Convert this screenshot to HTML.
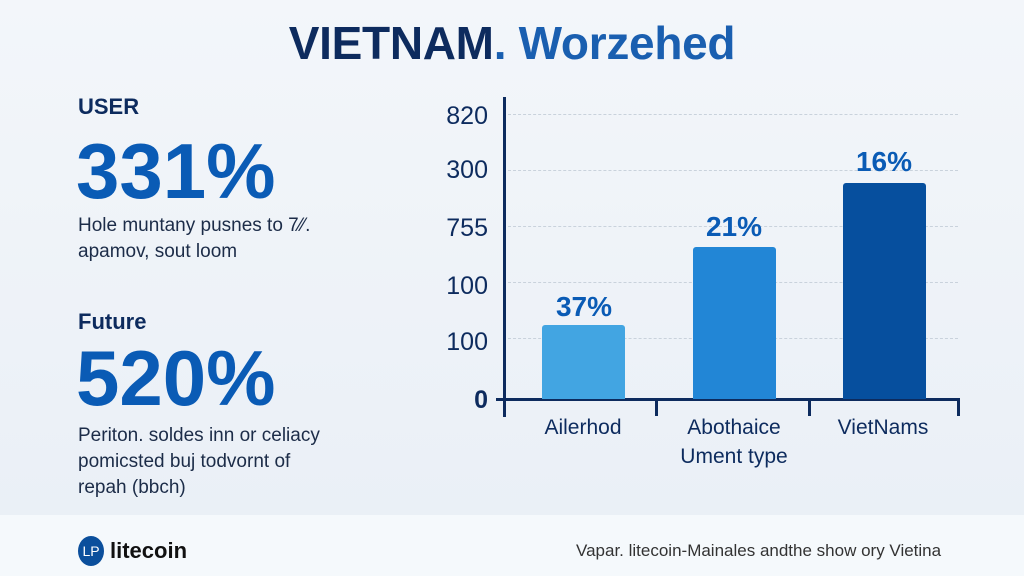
<!DOCTYPE html>
<html><head><style>
body{margin:0;width:1024px;height:576px;overflow:hidden;font-family:"Liberation Sans",sans-serif;background:linear-gradient(180deg,#f3f6fa,#e9eff6);position:relative}
.a{position:absolute;white-space:nowrap}
.t{left:0;width:1024px;text-align:center;top:16px;font-size:46px;font-weight:bold;color:#0d2b5e;letter-spacing:-0.3px}
.t span{color:#1a5fb0}
.h{font-size:22px;font-weight:bold;color:#0d2b5e}
.big{font-size:78px;font-weight:bold;color:#0a5bb5;letter-spacing:0px}
.p{font-size:19px;color:#1c2c48;line-height:26px}
.y{font-size:25px;color:#0d2b5e;text-align:right;width:60px;left:428px;line-height:30px}
.x{font-size:21px;color:#0d2b5e;text-align:center;width:150px;line-height:29px}
.v{font-size:28px;font-weight:bold;color:#0a5bb5;text-align:center;width:120px;line-height:32px}
.g{left:508px;width:450px;height:0;border-top:1px dashed #c9d2dc}
.foot{left:0;top:515px;width:1024px;height:61px;background:#f5f9fc}
</style></head><body>
<div class="a t">VIETNAM<span>. Worzehed</span></div>
<div class="a h" style="left:78px;top:94px">USER</div>
<div class="a big" style="left:76px;top:126px">331%</div>
<div class="a p" style="left:78px;top:213px">Hole muntany pusnes to 7⁄⁄.<br>apamov, sout loom</div>
<div class="a h" style="left:78px;top:309px">Future</div>
<div class="a big" style="left:76px;top:333px">520%</div>
<div class="a p" style="left:78px;top:423px">Periton. soldes inn or celiacy<br>pomicsted buj todvornt of<br>repah (bbch)</div>

<div class="a g" style="top:114px"></div>
<div class="a g" style="top:170px"></div>
<div class="a g" style="top:226px"></div>
<div class="a g" style="top:282px"></div>
<div class="a g" style="top:338px"></div>
<div class="a" style="left:503px;top:97px;width:3px;height:320px;background:#0d2b5e"></div>
<div class="a" style="left:496px;top:398px;width:464px;height:3px;background:#0d2b5e"></div>
<div class="a" style="left:655px;top:400px;width:3px;height:16px;background:#0d2b5e"></div>
<div class="a" style="left:808px;top:400px;width:3px;height:16px;background:#0d2b5e"></div>
<div class="a" style="left:957px;top:400px;width:3px;height:16px;background:#0d2b5e"></div>
<div class="a y" style="top:101px">820</div>
<div class="a y" style="top:155px">300</div>
<div class="a y" style="top:213px">755</div>
<div class="a y" style="top:271px">100</div>
<div class="a y" style="top:327px">100</div>
<div class="a y" style="top:385px;font-weight:bold">0</div>
<div class="a" style="left:542px;top:325px;width:83px;height:74px;background:#42a5e2;border-radius:3px 3px 0 0"></div>
<div class="a" style="left:693px;top:247px;width:83px;height:152px;background:#2286d6;border-radius:3px 3px 0 0"></div>
<div class="a" style="left:843px;top:183px;width:83px;height:216px;background:#064f9e;border-radius:3px 3px 0 0"></div>
<div class="a v" style="left:524px;top:291px">37%</div>
<div class="a v" style="left:674px;top:211px">21%</div>
<div class="a v" style="left:824px;top:146px">16%</div>
<div class="a x" style="left:508px;top:413px">Ailerhod</div>
<div class="a x" style="left:659px;top:413px">Abothaice<br>Ument type</div>
<div class="a x" style="left:808px;top:413px">VietNams</div>

<div class="a foot"></div>
<div class="a" style="left:78px;top:536px;width:26px;height:30px;border-radius:50%;background:#0b4f9c;color:#fff;font-size:14px;text-align:center;line-height:30px">LP</div>
<div class="a" style="left:110px;top:538px;font-size:22px;font-weight:bold;color:#111">litecoin</div>
<div class="a" style="left:576px;top:541px;font-size:17px;color:#333">Vapar. litecoin-Mainales andthe show ory Vietina</div>
</body></html>
